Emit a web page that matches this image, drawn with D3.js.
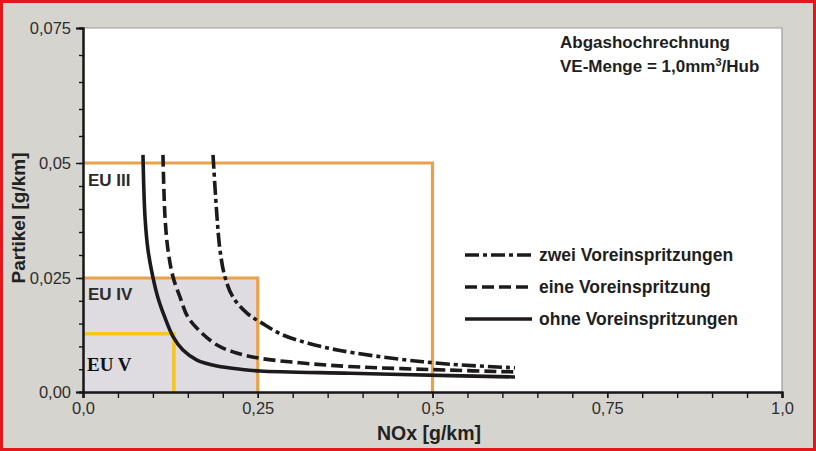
<!DOCTYPE html>
<html>
<head>
<meta charset="utf-8">
<script src="https://cdn.jsdelivr.net/npm/d3@7"></script>
<style>
  body { margin: 0; background: #fff; }
  text { font-family: "Liberation Sans", Arial, sans-serif; }
</style>
</head>
<body>
<div id="chart"></div>
<script>
// Partikel vs NOx, Abgashochrechnung

// axis ticks
var xMajor = [0, 0.25, 0.5, 0.75, 1.0];
var xMajorLabels = ["0,0", "0,25", "0,5", "0,75", "1,0"];
var yMajor = [0, 0.025, 0.05, 0.075];
var yMajorLabels = ["0,00", "0,025", "0,05", "0,075"];

// limits [NOx, Partikel]
var euNames = ["EU III", "EU IV", "EU V"];
var euNox = [0.5, 0.25, 0.13];
var euPm = [0.05, 0.025, 0.0128];

// curves
var ohneNox = [0.0858, 0.0887, 0.093, 0.100, 0.107, 0.117, 0.129, 0.143, 0.163, 0.192, 0.225, 0.253, 0.382, 0.525, 0.618];
var ohnePm  = [0.0515, 0.0383, 0.0311, 0.0252, 0.0208, 0.0164, 0.0121, 0.0092, 0.0070, 0.0057, 0.0050, 0.0046, 0.0041, 0.0036, 0.0033];

var eineNox = [0.1144, 0.1173, 0.1216, 0.1288, 0.1388, 0.1502, 0.1702, 0.1917, 0.2146, 0.249, 0.31, 0.38, 0.524, 0.617];
var einePm  = [0.0515, 0.0383, 0.0311, 0.0252, 0.0208, 0.0164, 0.0129, 0.0103, 0.0088, 0.0075, 0.0064, 0.0056, 0.0048, 0.0044];

var zweiNox = [0.186, 0.1917, 0.196, 0.2031, 0.2146, 0.2346, 0.2561, 0.2861, 0.3247, 0.3677, 0.453, 0.525, 0.618];
var zweiPm  = [0.0515, 0.0383, 0.0311, 0.0252, 0.0208, 0.0173, 0.0151, 0.0125, 0.0106, 0.0091, 0.0072, 0.0061, 0.0053];

var legendNames = ["zwei Voreinspritzungen", "eine Voreinspritzung", "ohne Voreinspritzungen"];

var W = 816, H = 451;
var svg = d3.select("#chart").append("svg")
  .attr("width", W)
  .attr("height", H);

// scanned page background + red frame
svg.append("rect")
  .attr("x", 0).attr("y", 0).attr("width", W).attr("height", H)
  .attr("fill", "#d6d4ce");
svg.append("rect")
  .attr("x", 1.5).attr("y", 1.5).attr("width", W - 3).attr("height", H - 3)
  .attr("fill", "none").attr("stroke", "#e3161c").attr("stroke-width", 3);

var x = d3.scaleLinear().domain([0, 1]).range([83, 782]);
// the original axis is not evenly spaced, so map it piece by piece
var y = d3.scaleLinear().domain([0, 0.025, 0.05, 0.075]).range([392, 278, 163, 28]);

// plot area
svg.append("rect")
  .attr("x", x(0)).attr("y", y(0.075))
  .attr("width", x(1) - x(0)).attr("height", y(0) - y(0.075))
  .attr("fill", "#ffffff");
svg.append("path")
  .attr("d", "M" + x(0) + "," + y(0.075) + "H" + x(1) + "V" + y(0))
  .attr("fill", "none").attr("stroke", "#9a9a9a").attr("stroke-width", 1.2);

// EU IV / EU V area
svg.append("rect")
  .attr("x", x(0)).attr("y", y(euPm[1]))
  .attr("width", x(euNox[1]) - x(0)).attr("height", y(0) - y(euPm[1]))
  .attr("fill", "#dedbe1");

// limit lines (top and right side only)
var limColors = ["#e9a24a", "#e9a24a", "#f7c51e"];
euNames.forEach(function(n, i) {
  svg.append("path")
    .attr("d", "M" + x(0) + "," + y(euPm[i]) + "H" + x(euNox[i]) + "V" + y(0))
    .attr("fill", "none")
    .attr("stroke", limColors[i])
    .attr("stroke-width", i == 2 ? 3.5 : 3.2);
});

// EU labels
svg.append("text").attr("x", 88).attr("y", y(euPm[0]) + 23)
  .style("font-size", "17px").style("font-weight", "bold").attr("fill", "#2b2b2b")
  .text(euNames[0]);
svg.append("text").attr("x", 88).attr("y", y(euPm[1]) + 22)
  .style("font-size", "17px").style("font-weight", "bold").attr("fill", "#2b2b2b")
  .text(euNames[1]);
svg.append("text").attr("x", 87).attr("y", y(euPm[2]) + 37)
  .style("font-family", "'Liberation Serif', 'Times New Roman', serif")
  .style("font-size", "19px").style("font-weight", "bold").attr("fill", "#111")
  .text(euNames[2]);

// curves
var line = d3.line()
  .x(function(d) { return x(d[0]); })
  .y(function(d) { return y(d[1]); })
  .curve(d3.curveCatmullRom.alpha(0.5));

var series = [
  {nox: zweiNox, pm: zweiPm, dash: "14,4,4,4"},
  {nox: eineNox, pm: einePm, dash: "12,5"},
  {nox: ohneNox, pm: ohnePm, dash: null}
];

series.forEach(function(s) {
  var pts = s.nox.map(function(v, i) { return [v, s.pm[i]]; });
  svg.append("path")
    .datum(pts)
    .attr("d", line)
    .attr("fill", "none")
    .attr("stroke", "#1c1a1a")
    .attr("stroke-width", 3.6)
    .attr("stroke-dasharray", s.dash);
});

// axes
var yAxisMinor = svg.append("g")
  .attr("transform", "translate(" + x(0) + ",0)")
  .call(d3.axisLeft(y).tickValues(d3.range(0, 0.0751, 0.005)).tickSize(4).tickFormat(""));
var yAxis = svg.append("g")
  .attr("transform", "translate(" + x(0) + ",0)")
  .call(d3.axisLeft(y).tickValues(yMajor).tickSize(7)
    .tickFormat(function(d, i) { return yMajorLabels[i]; }));

var xAxisMinor = svg.append("g")
  .attr("transform", "translate(0," + y(0) + ")")
  .call(d3.axisBottom(x).tickValues(d3.range(0, 1.001, 0.05)).tickSize(6).tickFormat(""));
var xAxis = svg.append("g")
  .attr("transform", "translate(0," + y(0) + ")")
  .call(d3.axisBottom(x).tickValues(xMajor).tickSize(6)
    .tickFormat(function(d, i) { return xMajorLabels[i]; }));

[yAxisMinor, yAxis, xAxisMinor, xAxis].forEach(function(g) {
  g.selectAll(".domain").attr("stroke", "#161616").attr("stroke-width", 2);
  g.selectAll(".tick line").attr("stroke", "#161616").attr("stroke-width", 1.4);
  g.selectAll(".tick text")
    .style("font-family", "'Liberation Sans', Arial, sans-serif")
    .style("font-size", "16.5px")
    .attr("fill", "#2e2e2e");
});
yAxis.selectAll(".tick text").attr("x", -12);
xAxis.selectAll(".tick text").attr("y", 10);

// axis titles
svg.append("text")
  .attr("transform", "translate(25,218) rotate(-90)")
  .attr("text-anchor", "middle")
  .style("font-size", "19px").style("font-weight", "bold").attr("fill", "#222")
  .text("Partikel [g/km]");
svg.append("text")
  .attr("x", 429).attr("y", 440)
  .attr("text-anchor", "middle")
  .style("font-size", "19.5px").style("font-weight", "bold").attr("fill", "#222")
  .text("NOx [g/km]");

// heading in the plot
var head = svg.append("text")
  .attr("x", 560).attr("y", 48)
  .style("font-size", "17px").style("font-weight", "bold").attr("fill", "#1e1e1e");
head.append("tspan").text("Abgashochrechnung");
var l2 = svg.append("text")
  .attr("x", 560).attr("y", 72)
  .style("font-size", "17px").style("font-weight", "bold").attr("fill", "#1e1e1e");
l2.append("tspan").text("VE-Menge = 1,0mm");
l2.append("tspan").attr("dy", -6).style("font-size", "11px").text("3");
l2.append("tspan").attr("dy", 6).text("/Hub");

// legend
var legendY = [255, 287, 319];
series.forEach(function(s, i) {
  svg.append("line")
    .attr("x1", 465).attr("x2", 532)
    .attr("y1", legendY[i]).attr("y2", legendY[i])
    .attr("stroke", "#1c1a1a").attr("stroke-width", 3.6)
    .attr("stroke-dasharray", s.dash);
  svg.append("text")
    .attr("x", 539).attr("y", legendY[i] + 6)
    .style("font-size", "17.5px").style("font-weight", "bold").attr("fill", "#1e1e1e")
    .text(legendNames[i]);
});
</script>
</body>
</html>
